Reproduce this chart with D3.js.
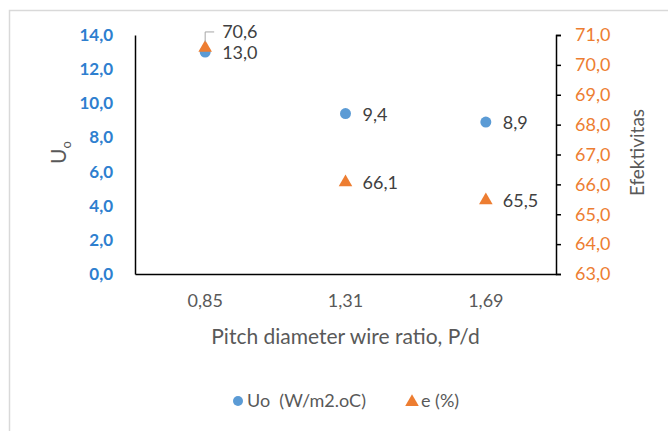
<!DOCTYPE html>
<html>
<head>
<meta charset="utf-8">
<script src="https://cdn.jsdelivr.net/npm/d3@7"></script>
<style>
  body { margin: 0; background: #fff; }
  text { font-family: Lato, "Open Sans", sans-serif; }
</style>
</head>
<body>
<div class="chart"></div>
<script>
// data
const ratios = ["0,85", "1,31", "1,69"]
const uoValues = [13.0, 9.4, 8.9]
const effValues = [70.6, 66.1, 65.5]
const uoTicks = [0, 2, 4, 6, 8, 10, 12, 14]
const effTicks = [63, 64, 65, 66, 67, 68, 69, 70, 71]

const fmt = v => d3.format(".1f")(v).replace(".", ",")

let dimensions = {
    width: 668,
    height: 431,
    margin: { top: 35, right: 112, bottom: 157, left: 135 }
}
dimensions.boundedWidth = dimensions.width - dimensions.margin.left - dimensions.margin.right
dimensions.boundedHeight = dimensions.height - dimensions.margin.top - dimensions.margin.bottom

const wrapper = d3.select(".chart")
    .append("svg")
    .attr("width", dimensions.width)
    .attr("height", dimensions.height)

// chart frame
wrapper.append("path")
    .attr("d", "M9.5,431 V10.5 H668")
    .attr("fill", "none")
    .attr("stroke", "#d9d9d9")
    .attr("stroke-width", 1.5)

const bounds = wrapper.append("g")
    .attr("transform", `translate(${dimensions.margin.left},${dimensions.margin.top})`)

// scales
const xScale = d3.scaleBand()
    .domain(ratios)
    .range([0, dimensions.boundedWidth])

const yLeft = d3.scaleLinear()
    .domain([0, 14])
    .range([dimensions.boundedHeight, 0])

const yRight = d3.scaleLinear()
    .domain([63, 71])
    .range([dimensions.boundedHeight, 0])

// left axis
const leftAxis = bounds.append("g")
    .call(d3.axisLeft(yLeft).tickValues(uoTicks).tickFormat(fmt).tickSize(0).tickPadding(22))
leftAxis.select(".domain").attr("stroke", "#000").attr("stroke-width", 1.5)
leftAxis.selectAll("text")
    .attr("fill", "#2e7fcf")
    .style("font-size", "17px")
    .style("font-weight", "bold")

// right axis
const rightAxis = bounds.append("g")
    .attr("transform", `translate(${dimensions.boundedWidth},0)`)
    .call(d3.axisRight(yRight).tickValues(effTicks).tickFormat(fmt).tickSizeInner(5).tickSizeOuter(5).tickPadding(14))
rightAxis.select(".domain").attr("stroke", "#000").attr("stroke-width", 1.5)
rightAxis.selectAll("line").attr("stroke", "#000").attr("stroke-width", 1.5)
rightAxis.selectAll("text")
    .attr("fill", "#ed7d31")
    .style("font-size", "18px")

// x axis
const xAxis = bounds.append("g")
    .attr("transform", `translate(0,${dimensions.boundedHeight})`)
    .call(d3.axisBottom(xScale).tickSize(0).tickPadding(20))
xAxis.select(".domain").attr("stroke", "#000").attr("stroke-width", 1.5)
xAxis.selectAll("text")
    .attr("fill", "#595959")
    .style("font-size", "18px")

// axis titles
bounds.append("text")
    .attr("x", dimensions.boundedWidth / 2)
    .attr("y", dimensions.boundedHeight + 70)
    .attr("text-anchor", "middle")
    .attr("fill", "#595959")
    .style("font-size", "21px")
    .text("Pitch diameter wire ratio, P/d")

const leftTitle = bounds.append("text")
    .attr("transform", `translate(-69,${dimensions.boundedHeight / 2 - 2}) rotate(-90)`)
    .attr("text-anchor", "middle")
    .attr("fill", "#595959")
    .style("font-size", "21px")
leftTitle.append("tspan").text("U")
leftTitle.append("tspan").attr("dy", 5).style("font-size", "13px").text("o")

bounds.append("text")
    .attr("transform", `translate(${dimensions.boundedWidth + 88},${dimensions.boundedHeight / 2 - 2}) rotate(-90)`)
    .attr("text-anchor", "middle")
    .attr("fill", "#595959")
    .style("font-size", "19px")
    .text("Efektivitas")

const xCenter = d => xScale(d) + xScale.bandwidth() / 2
const triangle = d3.symbol().type(d3.symbolTriangle).size(80)

// Uo points
bounds.selectAll(".uo")
    .data(uoValues)
    .join("circle")
    .attr("class", "uo")
    .attr("cx", (d, i) => xCenter(ratios[i]))
    .attr("cy", d => yLeft(d))
    .attr("r", 5.5)
    .attr("fill", "#5b9bd5")

// efficiency points
bounds.selectAll(".eff")
    .data(effValues)
    .join("path")
    .attr("class", "eff")
    .attr("d", triangle)
    .attr("transform", (d, i) => `translate(${xCenter(ratios[i])},${yRight(d) + 1})`)
    .attr("fill", "#ed7d31")

// labels
bounds.selectAll(".uoLabel")
    .data(uoValues)
    .join("text")
    .attr("class", "uoLabel")
    .attr("x", (d, i) => xCenter(ratios[i]) + 17)
    .attr("y", d => yLeft(d) + 1)
    .attr("dy", "0.35em")
    .attr("fill", "#404040")
    .style("font-size", "18px")
    .text(fmt)

bounds.selectAll(".effLabel")
    .data(effValues)
    .join("text")
    .attr("class", "effLabel")
    .attr("x", (d, i) => xCenter(ratios[i]) + 17)
    .attr("y", (d, i) => i === 0 ? yRight(d) - 15 : yRight(d) + 1)
    .attr("dy", "0.35em")
    .attr("fill", "#404040")
    .style("font-size", "18px")
    .text(fmt)

// leader line for the first e label
const lx = xCenter(ratios[0])
const ly = yRight(effValues[0])
bounds.append("path")
    .attr("d", `M${lx},${ly - 5} V${ly - 15} H${lx + 9}`)
    .attr("fill", "none")
    .attr("stroke", "#a6a6a6")
    .attr("stroke-width", 1)

// legend
const legend = wrapper.append("g")
    .attr("transform", "translate(0,401)")
legend.append("circle")
    .attr("cx", 238).attr("cy", 0).attr("r", 5)
    .attr("fill", "#5b9bd5")
legend.append("text")
    .attr("x", 247).attr("y", 0).attr("dy", "0.35em")
    .attr("fill", "#595959")
    .style("font-size", "18px")
    .attr("xml:space", "preserve")
    .text("Uo  (W/m2.oC)")
legend.append("path")
    .attr("d", triangle)
    .attr("transform", "translate(412,1)")
    .attr("fill", "#ed7d31")
legend.append("text")
    .attr("x", 421).attr("y", 0).attr("dy", "0.35em")
    .attr("fill", "#595959")
    .style("font-size", "18px")
    .text("e (%)")
</script>
</body>
</html>
